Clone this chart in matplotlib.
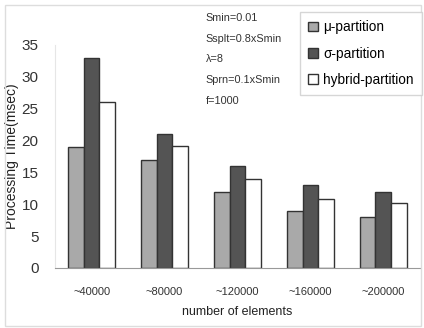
import numpy as np
from matplotlib import pyplot as plt
from matplotlib.patches import Rectangle

plt.rcParams['font.family'] = ['Liberation Sans', 'DejaVu Sans']

# datos
categorias = ['~40000', '~80000', '~120000', '~160000', '~200000']
mu_part = [19, 17, 12, 9, 8]
sigma_part = [33, 21, 16, 13, 12]
hybrid_part = [26, 19.2, 14, 10.8, 10.2]
series = ['μ-partition', 'σ-partition', 'hybrid-partition']
colores = ['#a9a9a9', '#545454', '#ffffff']
parametros = ['Smin=0.01', 'Ssplt=0.8xSmin', 'λ=8', 'Sprn=0.1xSmin', 'f=1000']

fig = plt.figure(figsize=(4.24, 3.28), dpi=100)
ax = fig.add_axes([0.13, 0.183, 0.86, 0.68])

# marco alrededor de toda la figura
fig.patches.append(Rectangle((0.012, 0.005), 0.98, 0.98, transform=fig.transFigure,
                             fill=False, edgecolor='#dddddd', lw=1))

x = np.arange(len(categorias))
w = 0.215
for i, (vals, col, nombre) in enumerate(zip([mu_part, sigma_part, hybrid_part], colores, series)):
    ax.bar(x + (i - 1) * w, vals, w, color=col, edgecolor='#333333', lw=1, label=nombre)

ax.set_xlim(-0.5, 4.5)
ax.set_ylim(0, 35)
ax.set_yticks(range(0, 36, 5))
ax.set_xticks(x)
ax.set_xticklabels(categorias, fontsize=8, color='#333333')
ax.tick_params(axis='y', labelsize=11, colors='#333333', length=0, pad=12)
ax.tick_params(axis='x', length=0, pad=14)
for s in ['top', 'right']:
    ax.spines[s].set_visible(False)
ax.spines['left'].set_color('#e6e6e6')
ax.spines['bottom'].set_color('#999999')
ax.set_xlabel('number of elements', fontsize=9, color='#222222', labelpad=6)
ax.set_ylabel('Processing Time(msec)', fontsize=10, color='#222222', labelpad=2)

for k, t in enumerate(parametros):
    fig.text(0.485, 0.945 - k * 0.063, t, fontsize=7.8, color='#333333', va='center')

h, l = ax.get_legend_handles_labels()
leg = fig.legend(h, l, loc='upper right', bbox_to_anchor=(0.995, 0.963), fontsize=9.8,
                 frameon=True, fancybox=False, edgecolor='#cccccc',
                 handlelength=0.7, handleheight=0.7, handletextpad=0.4,
                 labelspacing=0.9, borderpad=0.6, borderaxespad=0)

fig.savefig('out.png', dpi=100)
